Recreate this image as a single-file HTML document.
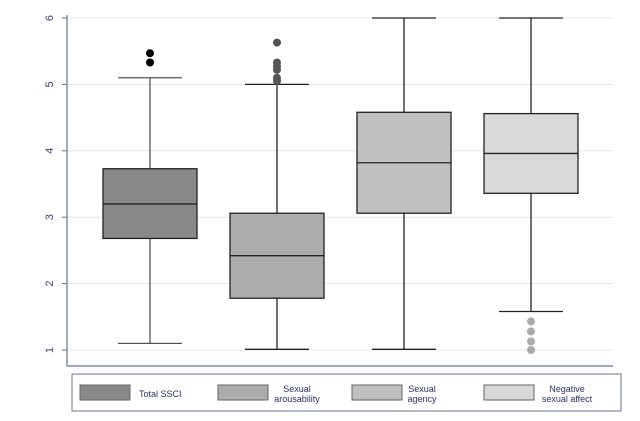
<!DOCTYPE html>
<html><head><meta charset="utf-8"><style>
body{margin:0;background:#fff;width:640px;height:416px;overflow:hidden;font-family:"Liberation Sans",sans-serif}
</style></head><body>
<svg id="chart" width="640" height="416" xmlns="http://www.w3.org/2000/svg"></svg>
<script>
const categories=["Total SSCI","Sexual arousability","Sexual agency","Negative sexual affect"];
const whiskerHigh=[5.1,5.0,6.0,6.0];
const q3=[3.73,3.06,4.58,4.56];
const medians=[3.2,2.42,3.82,3.96];
const q1=[2.68,1.78,3.06,3.36];
const whiskerLow=[1.1,1.01,1.01,1.58];
const outliers=[[5.33,5.47],[5.05,5.1,5.22,5.27,5.33,5.63],[],[1.0,1.13,1.28,1.43]];
const yTicks=[1,2,3,4,5,6];
const fills=["#898989","#acacac","#c0c0c0","#d9d9d9"];
const dotColors=["#000","#555","#999","#aaa"];
const NS="http://www.w3.org/2000/svg";
const svg=document.getElementById('chart');
function y(v){return 350-(v-1)*66.4;}
function x(i){return 150+i*127;}
function mk(t,a,p){const e=document.createElementNS(NS,t);for(const k in a)e.setAttribute(k,a[k]);(p||svg).appendChild(e);return e;}
const grid=mk('g',{});
yTicks.forEach(t=>{
 mk('line',{x1:67,x2:613,y1:y(t),y2:y(t),stroke:'#e3e5ee','stroke-width':1},grid);
 mk('line',{x1:62,x2:67,y1:y(t),y2:y(t),stroke:'#6a7393'});
 const tx=mk('text',{x:0,y:0,transform:`translate(53,${y(t)}) rotate(-90)`,'text-anchor':'middle','font-size':11,fill:'#3a4470'});
 tx.textContent=t;
 
 
});
const ax=mk('path',{d:'M67,15 V366 H613',fill:'none',stroke:'#6a7393','stroke-width':1.2});


categories.forEach((c,i)=>{
 const g=mk('g',{});
 
 
 const cx=x(i),hw=47,cw=32,st=i==0?'#555':'#222';
 mk('line',{x1:cx,x2:cx,y1:y(whiskerHigh[i]),y2:y(q3[i]),stroke:st,'stroke-width':1.3},g);
 mk('line',{x1:cx,x2:cx,y1:y(q1[i]),y2:y(whiskerLow[i]),stroke:st,'stroke-width':1.3},g);
 mk('line',{x1:cx-cw,x2:cx+cw,y1:y(whiskerHigh[i]),y2:y(whiskerHigh[i]),stroke:st,'stroke-width':1.3},g);
 mk('line',{x1:cx-cw,x2:cx+cw,y1:y(whiskerLow[i]),y2:y(whiskerLow[i]),stroke:st,'stroke-width':1.3},g);
 mk('rect',{x:cx-hw,y:y(q3[i]),width:hw*2,height:y(q1[i])-y(q3[i]),fill:fills[i],stroke:'#222','stroke-width':1.3},g);
 mk('line',{x1:cx-hw,x2:cx+hw,y1:y(medians[i]),y2:y(medians[i]),stroke:'#222','stroke-width':1.3},g);
 outliers[i].forEach(o=>{
  const d=mk('circle',{cx:cx,cy:y(o),r:4,fill:dotColors[i]},g);
  
  
 });
});
const lg=mk('g',{});


mk('rect',{x:72,y:374,width:549,height:37,fill:'#fff',stroke:'#6a7393','stroke-width':1},lg);
const lx=[80,218,352,484],tx=[139,297,422,567];
const labels=[["Total SSCI"],["Sexual","arousability"],["Sexual","agency"],["Negative","sexual affect"]];
categories.forEach((c,i)=>{
 const s=mk('rect',{x:lx[i],y:385,width:50,height:15,fill:fills[i],stroke:'#666'},lg);
 
 
 labels[i].forEach((t,j)=>{
  const e=mk('text',{x:tx[i],y:labels[i].length==1?397:392+j*10,'text-anchor':i==0?'start':'middle','font-size':9,fill:'#2a3366'},lg);
  e.textContent=t;
  
  
 });
});
</script>
</body></html>
